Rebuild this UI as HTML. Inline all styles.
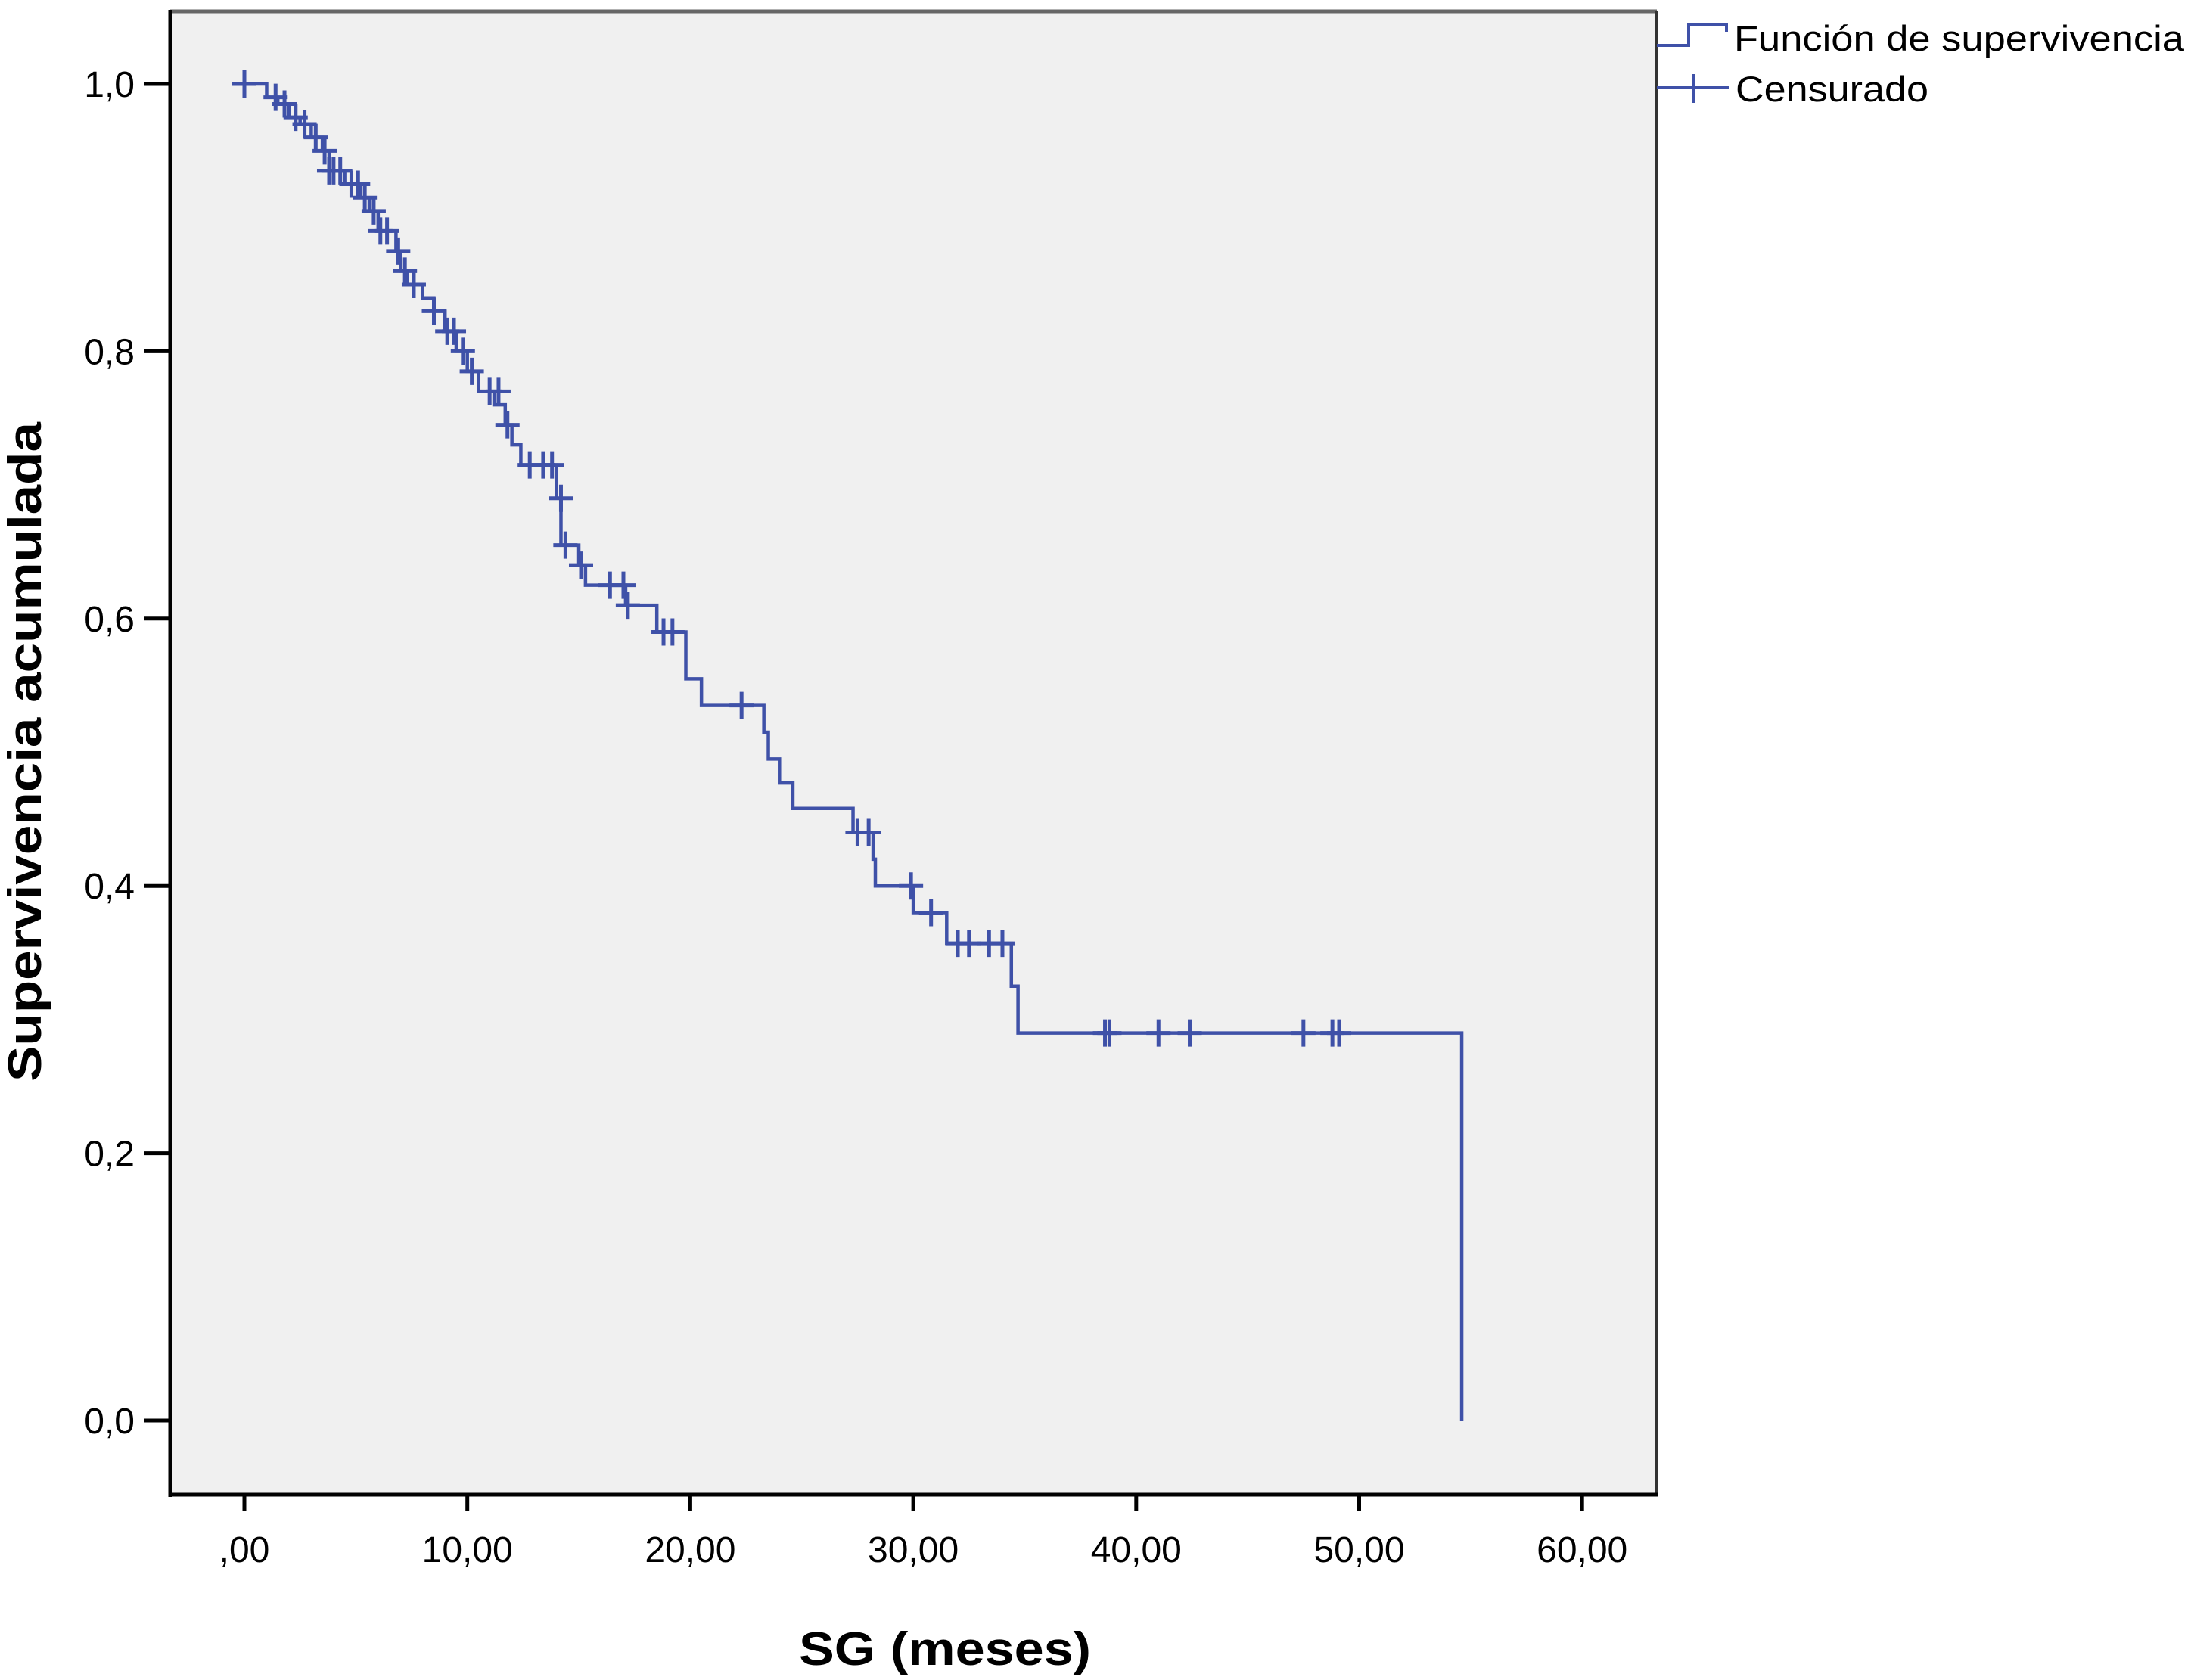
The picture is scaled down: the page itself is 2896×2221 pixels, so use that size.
<!DOCTYPE html>
<html><head><meta charset="utf-8"><style>
html,body{margin:0;padding:0;background:#fff;}
svg{display:block;}
text{font-family:"Liberation Sans",sans-serif;fill:#000;}
</style></head><body>
<svg id="chart" width="2896" height="2221" viewBox="0 0 2896 2221" xmlns="http://www.w3.org/2000/svg">
<rect x="225" y="15" width="1965" height="1961" fill="#f0f0f0"/>
<g id="marks"></g>
<line x1="225" y1="15" x2="2190" y2="15" stroke="#666" stroke-width="5"/>
<line x1="2190" y1="15" x2="2190" y2="1976" stroke="#333" stroke-width="4"/>
<line x1="225" y1="13" x2="225" y2="1979" stroke="#000" stroke-width="5"/>
<line x1="223" y1="1976" x2="2192" y2="1976" stroke="#000" stroke-width="5"/>
<g id="axes"></g>
<text x="1249" y="2201" text-anchor="middle" font-size="62" font-weight="bold" textLength="386" lengthAdjust="spacingAndGlyphs">SG (meses)</text>
<text transform="translate(54,994) rotate(-90)" text-anchor="middle" font-size="62" font-weight="bold" textLength="872" lengthAdjust="spacingAndGlyphs">Supervivencia acumulada</text>
<g>
<polyline points="2190,60 2232,60 2232,33 2282,33 2282,42" fill="none" stroke="#3f51a8" stroke-width="4"/>
<text x="2292" y="67" font-size="47" textLength="595" lengthAdjust="spacingAndGlyphs">Función de supervivencia</text>
<line x1="2190" y1="116" x2="2285" y2="116" stroke="#3f51a8" stroke-width="4"/>
<line x1="2238" y1="98" x2="2238" y2="136" stroke="#3f51a8" stroke-width="4"/>
<text x="2294" y="134" font-size="47" textLength="255" lengthAdjust="spacingAndGlyphs">Censurado</text>
</g>
</svg>
<script>
const xTicks = [0,10,20,30,40,50,60];
const xTickLabels = [",00","10,00","20,00","30,00","40,00","50,00","60,00"];
const yTicks = [0,0.2,0.4,0.6,0.8,1.0];
const yTickLabels = ["0,0","0,2","0,4","0,6","0,8","1,0"];
const eventTimes = [1.0,1.5,2.0,2.5,3.0,3.5,3.8,4.5,5.2,5.6,6.0,6.8,7.0,7.3,8.0,8.5,9.0,9.5,10.0,10.5,11.2,11.7,12.0,12.4,14.0,14.2,15.0,15.3,17.1,18.5,19.8,20.5,23.3,23.5,24.0,24.6,27.3,28.2,28.3,30.0,31.5,34.4,34.7,54.6];
const eventSurv = [0.99,0.985,0.975,0.97,0.96,0.95,0.935,0.925,0.915,0.905,0.89,0.875,0.86,0.85,0.84,0.83,0.815,0.80,0.785,0.77,0.76,0.745,0.73,0.715,0.69,0.655,0.64,0.625,0.61,0.59,0.555,0.535,0.515,0.495,0.477,0.458,0.44,0.42,0.40,0.38,0.357,0.325,0.29,0.0];
const censorTimes = [0,1.4,1.8,2.3,2.7,3.2,3.6,3.8,4.0,4.3,4.8,5.1,5.4,5.8,6.1,6.4,6.9,7.2,7.6,8.5,9.1,9.4,9.8,10.2,11.0,11.4,11.8,12.8,13.4,13.8,14.2,14.4,15.1,16.4,17.0,17.2,18.8,19.2,22.3,27.5,28.0,29.9,30.8,32.0,32.5,33.4,34.0,38.6,38.8,41.0,42.4,47.5,48.8,49.1];
const censorSurv = [1.0,0.99,0.985,0.975,0.97,0.96,0.95,0.935,0.935,0.935,0.925,0.925,0.915,0.905,0.89,0.89,0.875,0.86,0.85,0.83,0.815,0.815,0.80,0.785,0.77,0.77,0.745,0.715,0.715,0.715,0.69,0.655,0.64,0.625,0.625,0.61,0.59,0.59,0.535,0.44,0.44,0.40,0.38,0.357,0.357,0.357,0.357,0.29,0.29,0.29,0.29,0.29,0.29,0.29];

const NS = "http://www.w3.org/2000/svg";
const xs = v => 323 + v * 29.47;
const ys = v => 1878 - v * 1767;
const axes = document.getElementById('axes');
const marks = document.getElementById('marks');
function mk(tag, attrs, parent){const e=document.createElementNS(NS,tag);for(const k in attrs)e.setAttribute(k,attrs[k]);parent.appendChild(e);return e;}

xTicks.forEach((v,i)=>{
  const t = mk('line',{x1:xs(v),y1:1976,x2:xs(v),y2:1997,stroke:'#000','stroke-width':5},axes);
  
  
  const l = mk('text',{x:xs(v),y:2065,'text-anchor':'middle','font-size':48},axes);
  
  
  l.textContent = xTickLabels[i];
});
yTicks.forEach((v,i)=>{
  const t = mk('line',{x1:190,y1:ys(v),x2:225,y2:ys(v),stroke:'#000','stroke-width':5},axes);
  
  
  const l = mk('text',{x:178,y:ys(v)+17,'text-anchor':'end','font-size':48},axes);
  
  
  l.textContent = yTickLabels[i];
});

let pts = [[xs(0),ys(1)]];
let cur = 1;
eventTimes.forEach((t,i)=>{
  pts.push([xs(t),ys(cur)]);
  cur = eventSurv[i];
  pts.push([xs(t),ys(cur)]);
});
const line = mk('polyline',{points:pts.map(p=>p.join(',')).join(' '),fill:'none',stroke:'#3f51a8','stroke-width':4.5},marks);



censorTimes.forEach((t,i)=>{
  const cx = xs(t), cy = ys(censorSurv[i]);
  const g = mk('path',{d:`M${cx-16},${cy}H${cx+16}M${cx},${cy-18}V${cy+18}`,stroke:'#3f51a8','stroke-width':5,fill:'none'},marks);
  
  
});
</script>
</body></html>
